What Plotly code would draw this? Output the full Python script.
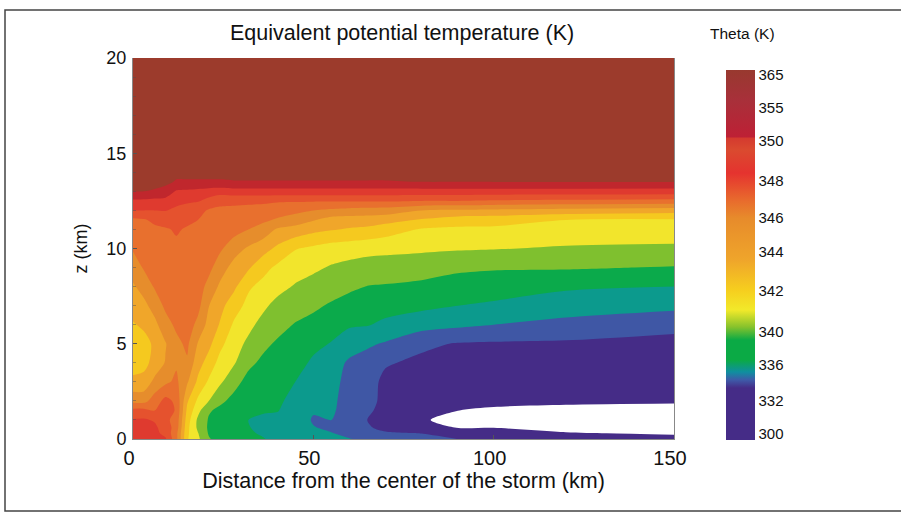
import numpy as np
import plotly.graph_objects as go

# Heights (km) and distances (km) of the value grid
heights = [0, .3, .6, 1, 1.5, 2, 3, 4, 5, 6, 7, 8, 9, 10, 11, 11.5, 12, 12.5, 13, 13.5, 14, 20]
distances = [0, 3, 6, 9, 12, 15, 18, 21, 24, 28, 32, 36, 40, 45, 50, 55, 60, 65, 70, 80, 90, 100, 120, 150]

# Equivalent potential temperature (K), one list per distance, bottom to top
theta_by_distance = [
    [348.5,348.5,348.2,347.7,346.8,345,342.9,342,341.9,342.4,343.2,343.8,344.7,345.6,346,346.3,347.5,349.6,352.2,354,356,365],
    [348.4,348.4,348.2,347.8,346.8,345,343,342.2,342.1,342.8,343.6,344.6,345.6,345.9,346.2,346.4,347.5,349.5,352,354,356,365],
    [348.2,348.2,348,347.4,346.5,346,344.4,343,342.8,343.6,344.6,345.6,346,346.2,346.3,346.7,347.5,349.2,351.9,356,357,365],
    [347.8,347.2,347,346.7,347,346.8,345.2,344.1,343.9,344.9,345.7,346.1,346.2,346.3,346.4,346.9,347.6,349,351.6,356,357,365],
    [345.8,345.8,346.1,346.2,346.4,346.3,345.7,345.3,345.1,345.7,346,346.2,346.3,346.3,346.6,347,347.3,348.2,349.7,351.9,356,365],
    [341.6,341.7,341.8,342,342.3,342.7,344.2,345.3,345.7,346,346.2,346.3,346.3,346.3,346.4,346.7,347,348,349.5,351.9,356,365],
    [340.7,340.55,340.3,340.3,340.8,341.3,342.3,343.1,343.9,345.1,345.8,346,346.1,346.2,346.3,346.5,346.8,347.7,349.2,351.9,356,365],
    [339.6,339.2,339,339.2,339.6,340.5,341.35,342.1,342.9,343.5,344.05,345,345.8,346,346.2,346.35,346.4,347.2,348.8,351.9,356,365],
    [338,337.8,337.7,338,338.8,339.7,340.7,341.2,341.8,342.45,343,343.8,344.7,345.7,346,346.2,346.3,346.8,348.6,351.9,356,365],
    [337.8,337.6,337.4,337.4,337.9,338.6,339.8,340.6,340.9,341.35,341.95,342.8,343.5,344.6,345.9,346.1,346.3,346.7,349,351.95,356,365],
    [337,336.6,336.2,336,336.4,337,338.5,339.7,340.3,340.75,341.2,341.65,342.7,343.8,345.5,345.9,346.2,346.7,349,351.95,356,365],
    [336.3,335.7,335.4,335.7,336.3,336.8,337.7,338.9,339.7,340.2,340.7,341.2,341.85,343.1,344.9,345.7,346.1,346.7,349,351.95,356,365],
    [335.2,335.1,335,335.4,336.2,336.6,337.2,338.2,339.1,339.8,340.2,340.85,341.3,342.3,343.8,345.3,346,346.6,349,351.95,356,365],
    [334.7,334.6,334.5,334.6,335,335.4,336,337.2,338.2,339.3,339.9,340.4,340.95,341.55,343.5,344.7,345.8,346.6,349,351.95,356,365],
    [334.3,334.15,334.05,333.95,334.1,334.4,335,335.7,336.8,338.3,339.7,340.1,340.7,341.3,342.9,344.1,345.5,346.6,349,351.95,356,365],
    [334.15,334.05,333.9,334,334.2,334.4,334.8,335.2,335.9,337.3,339,340,340.4,341.05,342.6,343.4,345.2,346.6,349,351.95,356,365],
    [334.05,333.85,333.5,333.6,333.7,333.6,333.6,333.8,335.2,336.3,338,339.7,340.2,340.95,342.4,343.3,345,346.6,349,351.95,356,365],
    [333.9,333.6,333.1,332.8,333.2,333.4,333.4,333.6,334.3,336.2,337.6,339.4,340.1,340.8,342.3,343.2,344.9,346.6,349,351.95,356,365],
    [333.6,333.1,325,320,320,322,325,333.1,333.9,335.6,337.3,339.2,340.05,340.75,342,343,344.8,346.6,349,351.95,356,365],
    [333.3,332.5,315,303,306,310,318,326,333.2,334.8,336.8,338.6,340,340.65,341.4,342.4,344,346.5,349,352.1,356,365],
    [332.8,315,299,292,300.2,305,313,322,331,334.4,336,337.9,339.7,340.6,341.3,342,343.8,346.5,349,352.2,356,365],
    [330,312,299.5,288,298.5,303,311,320,329,334,335.7,337.6,339.6,340.55,341.3,341.9,343.7,346.4,349,352.3,356,365],
    [320,302,292,285,296,303,311,319,328,333.7,335,336.5,339.6,340.4,341.1,341.5,343.4,346.3,349,352.4,356,365],
    [310,297,290,285,295,302,310,318,326,333.2,334.6,336,339.3,340.3,341.1,341.4,343.1,346.2,348.9,353,356,365],
]

# Where one colour band of the map gives way to the next (K)
band_edges = [300, 333, 334, 336, 339.5, 340.5, 341.5, 342.5, 344, 345.5, 346.5, 347.5, 350, 352]
band_colors = ["#FFFFFF", "#452C87", "#3F57A5", "#0C9A8D", "#0BAA4B", "#7FC02F", "#F2E52C", "#F5C91F",
               "#F0A62A", "#E68D2C", "#E8702E", "#E5522E", "#DF3A2F", "#C0272D", "#9C3B2C"]

# Colour bar: labels, their place along the bar, and its colour ramp
bar_labels = [300, 332, 336, 340, 342, 344, 346, 348, 350, 355, 365]
bar_places = [6, 39, 75, 108, 149, 188, 222, 259, 299, 332, 365]
bar_ramp_places = [0, 52, 60, 68, 80, 100, 113, 130, 150, 180, 222, 240, 267, 290, 302, 303, 340, 370]
bar_ramp_colors = ["#452C87", "#452C87", "#3E5AA8", "#0F8FA0", "#0BAA45", "#0BAA45", "#86C22C", "#F2E92A",
                   "#F6CE1E", "#EFA52B", "#E78B2B", "#E86A2D", "#E5332F", "#DA4A2F", "#D43A2F", "#BE2035",
                   "#A8303A", "#98392F"]

theta = np.array(theta_by_distance).T
edges_x = [270] + band_edges + [380]
edges_u = [-0.5] + [i + 0.5 for i in range(len(band_edges))] + [len(band_edges) + 0.5]
band_pos = np.interp(theta, edges_x, edges_u)

nb = len(band_edges)
colorscale = ([[0, band_colors[0]]]
              + [[(k - 0.5) / (nb - 1), band_colors[k]] for k in range(1, nb)]
              + [[1, band_colors[-1]]])
ramp = [[p / bar_ramp_places[-1], c] for p, c in zip(bar_ramp_places, bar_ramp_colors)]

L, T, R, B = 133, 58, 674, 439
W, H = 901, 512
pw, ph = R - L, B - T

fig = go.Figure()
fig.add_trace(go.Contour(
    x=distances, y=heights, z=band_pos, customdata=theta,
    colorscale=colorscale, showscale=False, zauto=False, zmin=0.5, zmax=nb - 0.5,
    contours=dict(coloring="fill", start=0.5, end=nb - 0.5, size=1, showlines=False),
    line=dict(width=0, smoothing=0.8),
    hovertemplate="%{x} km, %{y} km: %{customdata} K<extra></extra>",
))
# Off-axis carrier of the colour bar
fig.add_trace(go.Heatmap(
    x=[-20, -10], y=[-20, -10], z=[[0, bar_ramp_places[-1]], [0, bar_ramp_places[-1]]],
    zauto=False, zmin=0, zmax=bar_ramp_places[-1], colorscale=ramp, hoverinfo="skip", showscale=True,
    colorbar=dict(
        x=(726 - L) / pw, xanchor="left", xpad=0, y=(B - 70) / ph, yanchor="top", ypad=0,
        thickness=29, lenmode="pixels", len=370, outlinewidth=0,
        tickmode="array", tickvals=bar_places, ticktext=[str(v) for v in bar_labels],
        ticks="", tickfont=dict(family="Liberation Sans", size=15, color="#111"),
    ),
))

fig.update_xaxes(
    range=[0, 150], tickvals=[0, 50, 100, 150], ticks="inside", ticklen=4, tickcolor="#555",
    ticklabelshift=-4, ticklabelstandoff=1, tickfont=dict(family="Liberation Sans", size=20, color="#111"),
    showgrid=False, zeroline=False, showline=True, linecolor="#888",
    title=dict(text="Distance from the center of the storm (km)", font=dict(family="Liberation Sans", size=21.5, color="#111"), standoff=2),
)
fig.update_yaxes(
    range=[0, 20], tickvals=[0, 5, 10, 15, 20], ticks="inside", ticklen=4, tickcolor="#555",
    minor=dict(dtick=1, ticks="inside", ticklen=3, tickcolor="rgba(80,80,80,0.45)"),
    ticklabelstandoff=2, tickfont=dict(family="Liberation Sans", size=18, color="#111"),
    showgrid=False, zeroline=False, showline=True, linecolor="#888", mirror=True,
    title=dict(text="z (km)", font=dict(family="Liberation Sans", size=18, color="#111"), standoff=14),
)
fig.update_layout(
    width=W, height=H, autosize=False, paper_bgcolor="white", plot_bgcolor="white",
    margin=dict(l=L, r=W - R, t=T, b=H - B, pad=0), showlegend=False,
    annotations=[
        dict(text="Equivalent potential temperature (K)", x=(402 - L) / pw, y=(B - 33) / ph, xref="paper", yref="paper",
             showarrow=False, xanchor="center", yanchor="middle", font=dict(family="Liberation Sans", size=21.5, color="#111")),
        dict(text="Theta (K)", x=(742 - L) / pw, y=(B - 33) / ph, xref="paper", yref="paper",
             showarrow=False, xanchor="center", yanchor="middle", font=dict(family="Liberation Sans", size=15.5, color="#111")),
    ],
    shapes=[dict(type="rect", xref="paper", yref="paper", x0=(5 - L) / pw, x1=(920 - L) / pw,
                 y0=(B - 511) / ph, y1=(B - 10) / ph, line=dict(color="#444", width=1.5), fillcolor="rgba(0,0,0,0)")],
)
fig.write_html("out.html", config={"displayModeBar": False},
               post_script="document.body.style.margin='0';document.body.style.overflow='hidden';")
